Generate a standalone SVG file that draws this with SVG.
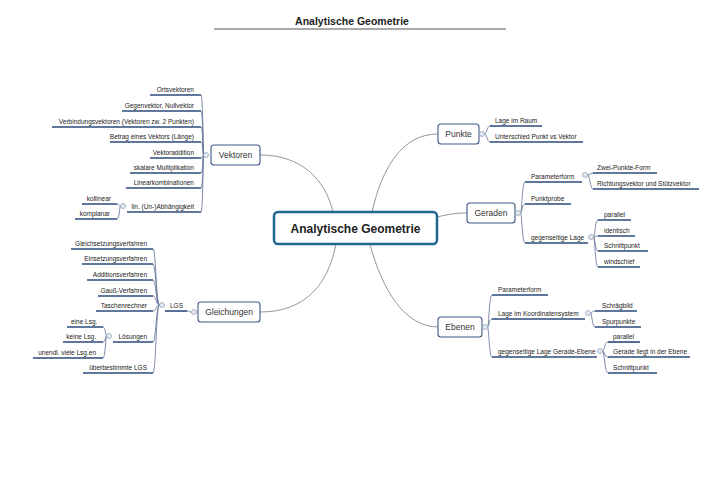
<svg xmlns="http://www.w3.org/2000/svg" width="720" height="480" viewBox="0 0 720 480">
<style>
text{font-family:"Liberation Sans",Arial,sans-serif;fill:#222}
.t{font-size:6.5px}
.l{text-anchor:end}
.n{font-size:8.5px;fill:#333;text-anchor:middle}
.ul{stroke:#2b4a7e;stroke-width:1.6;fill:none}
.br{stroke:#5d6f96;stroke-width:0.8;fill:none}
.main{stroke:#8a8a8a;stroke-width:0.9;fill:none}
.box{fill:#fff;stroke:#3c5a85;stroke-width:1.1}
.k{fill:#e4ebf2;stroke:#8a9ab0;stroke-width:0.7}
</style>
<rect width="720" height="480" fill="#fff"/>
<g id="title">
<text x="352" y="25" font-size="10.5" font-weight="bold" text-anchor="middle">Analytische Geometrie</text>
<line x1="214" y1="29" x2="506" y2="29" stroke="#555" stroke-width="1"/>
</g>
<g id="connectors">
<path class="main" d="M260,155 C300,155 325,178 333,212"/>
<path class="main" d="M372,212 C382,168 402,134 438,134"/>
<path class="main" d="M437,217 C450,214 455,213 467,213"/>
<path class="main" d="M260,312 C305,312 328,285 336,244"/>
<path class="main" d="M370,244 C382,290 405,327 438,327"/>
<path class="br" d="M203.5,155 C203,155 203,95 201,95"/>
<path class="br" d="M203.5,155 C203,155 203,111 201,111"/>
<path class="br" d="M203.5,155 C203,155 203,127 201,127"/>
<path class="br" d="M203.5,155 C203,155 203,142 201,142"/>
<path class="br" d="M203.5,155 C203,155 203,158 201,158"/>
<path class="br" d="M203.5,155 C203,155 203,173 201,173"/>
<path class="br" d="M203.5,155 C203,155 203,188 201,188"/>
<path class="br" d="M203.5,155 C203,155 203,212 201,212"/>
<path class="br" d="M120.5,206 C119.5,206 119.5,204 117,204"/>
<path class="br" d="M120.5,206 C119.5,206 119.5,219 117,219"/>
<path class="br" d="M191.5,312 C189,312 189,311 187,311"/>
<path class="br" d="M159.5,305 C156,305 156,249 153,249"/>
<path class="br" d="M159.5,305 C156,305 156,264 153,264"/>
<path class="br" d="M159.5,305 C156,305 156,280 153,280"/>
<path class="br" d="M159.5,305 C156,305 156,296 153,296"/>
<path class="br" d="M159.5,305 C156,305 156,311 153,311"/>
<path class="br" d="M159.5,305 C156,305 156,342 153,342"/>
<path class="br" d="M159.5,305 C156,305 156,373 153,373"/>
<path class="br" d="M106.5,336 C105.5,336 105.5,327 103,327"/>
<path class="br" d="M106.5,336 C105.5,336 105.5,342 103,342"/>
<path class="br" d="M106.5,336 C105.5,336 105.5,358 103,358"/>
<path class="br" d="M484.5,134 C487,134 487,126 490,126"/>
<path class="br" d="M484.5,134 C487,134 487,142 490,142"/>
<path class="br" d="M520.5,213 C522,213 522,182 525,182"/>
<path class="br" d="M520.5,213 C522,213 522,204 525,204"/>
<path class="br" d="M520.5,213 C522,213 522,243 525,243"/>
<path class="br" d="M587.5,175 C590,175 590,173 593,173"/>
<path class="br" d="M587.5,175 C590,175 590,189 593,189"/>
<path class="br" d="M593.5,237 C595,237 595,220 598,220"/>
<path class="br" d="M593.5,237 C595,237 595,236 598,236"/>
<path class="br" d="M593.5,237 C595,237 595,251 598,251"/>
<path class="br" d="M593.5,237 C595,237 595,267 598,267"/>
<path class="br" d="M487.5,327 C489,327 489,295 492,295"/>
<path class="br" d="M487.5,327 C489,327 489,319 492,319"/>
<path class="br" d="M487.5,327 C489,327 489,357 492,357"/>
<path class="br" d="M590.5,313 C592,313 592,311 595,311"/>
<path class="br" d="M590.5,313 C592,313 592,327 595,327"/>
<path class="br" d="M602.5,351 C604.5,351 604.5,342 608,342"/>
<path class="br" d="M602.5,351 C604.5,351 604.5,357 608,357"/>
<path class="br" d="M602.5,351 C604.5,351 604.5,373 608,373"/>
</g>
<g id="center">
<rect x="274" y="212" width="163" height="32" rx="4" fill="#fff" stroke="#1f6891" stroke-width="2.5"/>
<text x="355.5" y="232.5" font-size="12" font-weight="bold" text-anchor="middle">Analytische Geometrie</text>
</g>
<g id="vektoren">
<rect class="box" x="211" y="145" width="49" height="20" rx="3"/>
<text class="n" x="235.5" y="158">Vektoren</text>
<circle class="k" cx="206" cy="155" r="2.5"/>
<line class="ul" x1="150" y1="95" x2="201" y2="95"/><text class="t l" x="194" y="91.5">Ortsvektoren</text>
<line class="ul" x1="122" y1="111" x2="201" y2="111"/><text class="t l" x="194" y="107.5">Gegenvektor, Nullvektor</text>
<line class="ul" x1="52" y1="127" x2="201" y2="127"/><text class="t l" x="194" y="123.5">Verbindungsvektoren (Vektoren zw. 2 Punkten)</text>
<line class="ul" x1="110" y1="142" x2="201" y2="142"/><text class="t l" x="194" y="138.5">Betrag eines Vektors (Länge)</text>
<line class="ul" x1="150" y1="158" x2="201" y2="158"/><text class="t l" x="194" y="154.5">Vektoraddition</text>
<line class="ul" x1="130" y1="173" x2="201" y2="173"/><text class="t l" x="194" y="169.5">skalare Multiplikation</text>
<line class="ul" x1="126" y1="188" x2="201" y2="188"/><text class="t l" x="194" y="184.5">Linearkombinationen</text>
<line class="ul" x1="127" y1="212" x2="201" y2="212"/><text class="t l" x="194" y="208.5">lin. (Un-)Abhängigkeit</text>
<circle class="k" cx="123" cy="206" r="2.5"/>
<line class="ul" x1="82" y1="204" x2="117" y2="204"/><text class="t l" x="111" y="200.5">kollinear</text>
<line class="ul" x1="75" y1="219" x2="117" y2="219"/><text class="t l" x="110" y="215.5">komplanar</text>
</g>
<g id="gleichungen">
<rect class="box" x="198" y="302" width="62" height="20" rx="3"/>
<text class="n" x="229" y="315">Gleichungen</text>
<circle class="k" cx="194" cy="312" r="2.5"/>
<line class="ul" x1="165" y1="311" x2="187" y2="311"/><text class="t l" x="183" y="307.5">LGS</text>
<circle class="k" cx="162" cy="305" r="2.5"/>
<line class="ul" x1="71" y1="249" x2="153" y2="249"/><text class="t l" x="147" y="245.5">Gleichsetzungsverfahren</text>
<line class="ul" x1="82" y1="264" x2="153" y2="264"/><text class="t l" x="147" y="260.5">Einsetzungsverfahren</text>
<line class="ul" x1="87" y1="280" x2="153" y2="280"/><text class="t l" x="147" y="276.5">Additionsverfahren</text>
<line class="ul" x1="98" y1="296" x2="153" y2="296"/><text class="t l" x="147" y="292.5">Gauß-Verfahren</text>
<line class="ul" x1="96" y1="311" x2="153" y2="311"/><text class="t l" x="147" y="307.5">Taschenrechner</text>
<line class="ul" x1="113" y1="342" x2="153" y2="342"/><text class="t l" x="147" y="338.5">Lösungen</text>
<circle class="k" cx="109" cy="336" r="2.5"/>
<line class="ul" x1="67" y1="327" x2="103" y2="327"/><text class="t" x="71" y="323.5">eine Lsg.</text>
<line class="ul" x1="63" y1="342" x2="103" y2="342"/><text class="t l" x="96" y="338.5">keine Lsg.</text>
<line class="ul" x1="33" y1="358" x2="103" y2="358"/><text class="t l" x="96" y="354.5">unendl. viele Lsg.en</text>
<line class="ul" x1="83" y1="373" x2="153" y2="373"/><text class="t l" x="147" y="369.5">überbestimmte LGS</text>
</g>
<g id="punkte">
<rect class="box" x="438" y="124" width="41" height="20" rx="3"/>
<text class="n" x="458.5" y="137">Punkte</text>
<circle class="k" cx="482" cy="134" r="2.5"/>
<line class="ul" x1="490" y1="126" x2="542" y2="126"/><text class="t" x="495" y="122.5">Lage im Raum</text>
<line class="ul" x1="490" y1="142" x2="583" y2="142"/><text class="t" x="495" y="138.5">Unterschied Punkt vs Vektor</text>
</g>
<g id="geraden">
<rect class="box" x="467" y="203" width="48" height="20" rx="3"/>
<text class="n" x="491" y="216">Geraden</text>
<circle class="k" cx="518" cy="213" r="2.5"/>
<line class="ul" x1="525" y1="182" x2="582" y2="182"/><text class="t" x="531" y="178.5">Parameterform</text>
<circle class="k" cx="585" cy="175" r="2.5"/>
<line class="ul" x1="593" y1="173" x2="657" y2="173"/><text class="t" x="597" y="169.5">Zwei-Punkte-Form</text>
<line class="ul" x1="593" y1="189" x2="699" y2="189"/><text class="t" x="597" y="185.5">Richtungsvektor und Stützvektor</text>
<line class="ul" x1="525" y1="204" x2="571" y2="204"/><text class="t" x="531" y="200.5">Punktprobe</text>
<line class="ul" x1="525" y1="243" x2="588" y2="243"/><text class="t" x="531" y="239.5">gegenseitige Lage</text>
<circle class="k" cx="591" cy="237" r="2.5"/>
<line class="ul" x1="598" y1="220" x2="631" y2="220"/><text class="t" x="604" y="216.5">parallel</text>
<line class="ul" x1="598" y1="236" x2="635" y2="236"/><text class="t" x="604" y="232.5">identisch</text>
<line class="ul" x1="598" y1="251" x2="648" y2="251"/><text class="t" x="604" y="247.5">Schnittpunkt</text>
<line class="ul" x1="598" y1="267" x2="640" y2="267"/><text class="t" x="604" y="263.5">windschief</text>
</g>
<g id="ebenen">
<rect class="box" x="438" y="317" width="44" height="20" rx="3"/>
<text class="n" x="460" y="330">Ebenen</text>
<circle class="k" cx="485" cy="327" r="2.5"/>
<line class="ul" x1="492" y1="295" x2="548" y2="295"/><text class="t" x="498" y="291.5">Parameterform</text>
<line class="ul" x1="492" y1="319" x2="585" y2="319"/><text class="t" x="498" y="315.5">Lage im Koordinatensystem</text>
<circle class="k" cx="588" cy="313" r="2.5"/>
<line class="ul" x1="595" y1="311" x2="637" y2="311"/><text class="t" x="602" y="307.5">Schrägbild</text>
<line class="ul" x1="595" y1="327" x2="641" y2="327"/><text class="t" x="602" y="323.5">Spurpunkte</text>
<line class="ul" x1="492" y1="357" x2="597" y2="357"/><text class="t" x="498" y="353.5">gegenseitige Lage Gerade-Ebene</text>
<circle class="k" cx="600" cy="351" r="2.5"/>
<line class="ul" x1="608" y1="342" x2="640" y2="342"/><text class="t" x="613" y="338.5">parallel</text>
<line class="ul" x1="608" y1="357" x2="690" y2="357"/><text class="t" x="613" y="353.5">Gerade liegt in der Ebene</text>
<line class="ul" x1="608" y1="373" x2="657" y2="373"/><text class="t" x="613" y="369.5">Schnittpunkt</text>
</g>
</svg>
